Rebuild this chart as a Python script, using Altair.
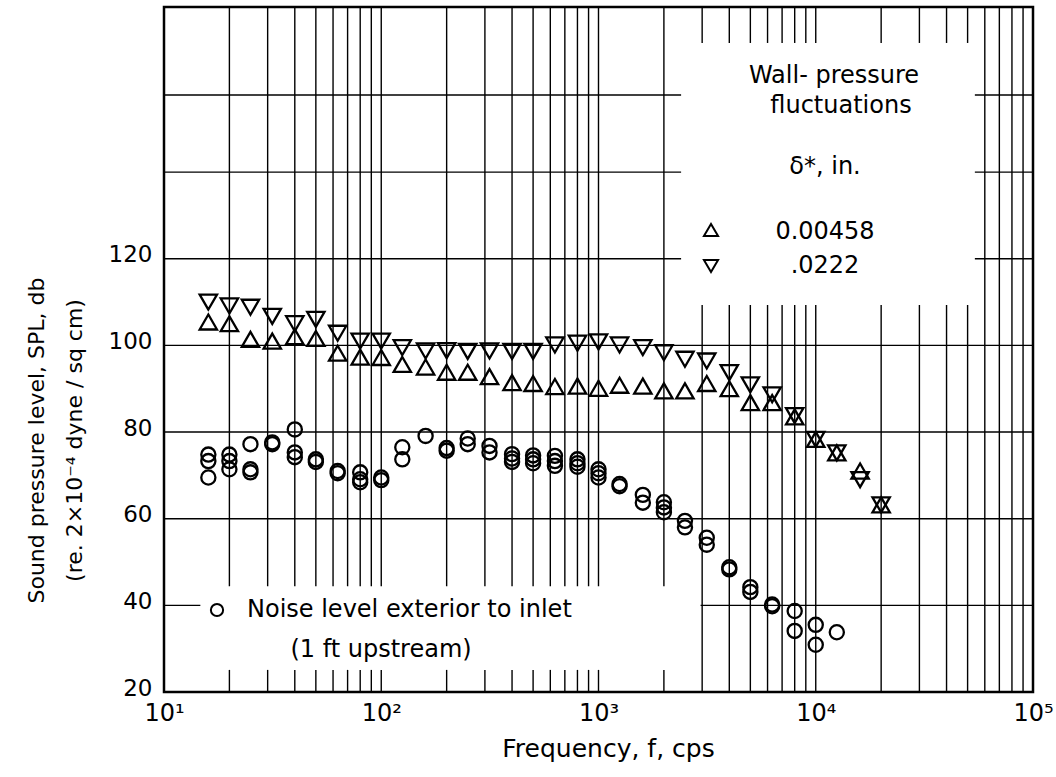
import altair as alt
import pandas as pd

# ---------------- data ----------------
freq_bands = [16, 20, 25, 31.5, 40, 50, 63, 80, 100, 125, 160, 200, 250, 315, 400, 500,
              630, 800, 1000, 1250, 1600, 2000, 2500, 3150, 4000, 5000, 6300, 8000,
              10000, 12500, 16000, 20000]
spl_thin = [105.4, 105.0, 101.4, 101.0, 102.0, 101.6, 98.2, 97.3, 97.2, 95.6, 95.0, 93.8,
            93.8, 92.8, 91.4, 91.2, 90.5, 90.6, 90.1, 90.8, 90.6, 89.5, 89.5, 91.2, 90.0,
            86.8, 86.8, 83.5, 78.3, 75.2, 71.0, 63.2]          # delta* = 0.00458 in.
spl_thick = [110.0, 109.1, 108.8, 106.7, 105.0, 106.0, 102.8, 101.0, 101.0, 99.5, 98.7,
             98.8, 98.6, 98.7, 98.6, 98.6, 100.1, 100.5, 100.8, 100.1, 99.5, 98.3, 96.8,
             96.4, 93.7, 90.9, 88.6, 83.8, 78.3, 75.2, 69.0, 63.2]  # delta* = .0222 in.

noise_freq = [16, 16, 16, 20, 20, 20, 25, 25, 25, 31.5, 31.5, 40, 40, 40, 50, 50, 63, 63,
              80, 80, 80, 100, 100, 125, 125, 160, 200, 200, 250, 250, 315, 315,
              400, 400, 400, 500, 500, 500, 630, 630, 630, 800, 800, 800,
              1000, 1000, 1000, 1250, 1250, 1600, 1600, 2000, 2000, 2000, 2500, 2500,
              3150, 3150, 4000, 4000, 5000, 5000, 6300, 6300, 8000, 8000, 10000, 10000, 12500]
noise_spl = [74.8, 73.3, 69.5, 74.8, 73.3, 71.4, 77.2, 71.4, 70.7, 77.6, 77.2, 80.6, 75.3,
             74.2, 73.7, 73.1, 71.0, 70.5, 70.7, 69.1, 68.4, 69.5, 68.9, 76.5, 73.7, 79.1,
             76.3, 75.7, 78.5, 77.2, 76.8, 75.3, 74.9, 73.9, 73.1, 74.6, 73.7, 72.8,
             74.5, 73.3, 72.2, 73.7, 72.8, 72.0, 71.4, 70.5, 69.5, 68.0, 67.5, 65.5, 63.7,
             63.8, 62.6, 61.5, 59.5, 58.0, 55.6, 54.0, 48.8, 48.3, 44.2, 43.1, 40.2, 39.8,
             38.7, 34.1, 35.5, 30.9, 33.8]

x_ticks = [10, 100, 1000, 10000, 100000]
y_ticks = [20, 40, 60, 80, 100, 120]
h_grid = [40, 60, 80, 100, 120, 140, 157.8]   # top ruling of the graph paper sits a little low
multipliers = [2, 3, 4, 5, 6, 7, 8, 9, 10]
decades = [10, 100, 1000, 10000]

# graph-paper gaps (areas kept clear for the lettering)
LEG_F = (2400, 54000)     # wall-pressure legend block, frequency span
LEG_S = (109.3, 169.8)    # SPL span
NOI_F = (14.7, 2950)      # noise label block
NOI_S = (25.1, 44.4)

X_DOM = [10, 100000]
Y_DOM = [20, 178.1]

# ---------------- grid segments ----------------
v_rows = []
for d in decades:
    for m in multipliers:
        f = m * d
        if f >= 100000:
            continue
        cuts = []
        if NOI_F[0] < f < NOI_F[1]:
            cuts.append(NOI_S)
        if LEG_F[0] < f < LEG_F[1]:
            cuts.append(LEG_S)
        lo = Y_DOM[0]
        for c in sorted(cuts):
            v_rows.append({"f": f, "s1": lo, "s2": c[0]})
            lo = c[1]
        v_rows.append({"f": f, "s1": lo, "s2": Y_DOM[1]})
vgrid = pd.DataFrame(v_rows)

h_rows = []
for s in h_grid:
    if s == 40:
        h_rows += [{"f": X_DOM[0], "s": s, "f2": NOI_F[0]}, {"f": NOI_F[1], "s": s, "f2": X_DOM[1]}]
    elif s >= 120:
        h_rows += [{"f": X_DOM[0], "s": s, "f2": LEG_F[0]}, {"f": LEG_F[1], "s": s, "f2": X_DOM[1]}]
    else:
        h_rows.append({"f": X_DOM[0], "s": s, "f2": X_DOM[1]})
hgrid = pd.DataFrame(h_rows)

wall = pd.DataFrame({
    "f": freq_bands * 2,
    "s": spl_thin + spl_thick,
    "set": ["0.00458"] * len(freq_bands) + [".0222"] * len(freq_bands),
})
noise = pd.DataFrame({"f": noise_freq, "s": noise_spl})

xs = alt.Scale(type="log", domain=X_DOM, nice=False)
ys = alt.Scale(domain=Y_DOM, nice=False, zero=False)

FONT = "DejaVu Sans"

sup = "{'10': '10\u00b9', '100': '10\u00b2', '1000': '10\u00b3', '10000': '10\u2074', '100000': '10\u2075'}"

xaxis = alt.Axis(values=x_ticks, grid=False, ticks=False, domain=False,
                 labelExpr=sup + "[replace(datum.label, /,/g, '')]",
                 labelFontSize=24, labelPadding=9, labelColor="black",
                 labelFont=FONT, labelFlush=False,
                 title="Frequency,  f,  cps", titleFontSize=25, titleFont=FONT,
                 titleFontWeight="normal", titleColor="black", titlePadding=11,
                 titleX=444)
yaxis = alt.Axis(values=y_ticks, grid=False, ticks=False, domain=False,
                 labelFontSize=23, labelPadding=12, labelColor="black", labelFont=FONT,
                 labelOffset=-4,
                 title=["Sound pressure level, SPL, db", "(re. 2\u00d710\u207b\u2074 dyne / sq cm)"],
                 titleFontSize=22, titleFont=FONT, titleFontWeight="normal",
                 titleColor="black", titleAngle=-90, titleAlign="center",
                 titleBaseline="top", titleX=-138, titleY=433, titleLineHeight=38)

X = alt.X("f:Q", scale=xs, axis=xaxis)
Y = alt.Y("s:Q", scale=ys, axis=yaxis)

vlines = alt.Chart(vgrid).mark_rule(color="black", strokeWidth=1.4).encode(
    x=X, y=alt.Y("s1:Q", scale=ys, axis=yaxis), y2="s2:Q",
)
hlines = alt.Chart(hgrid).mark_rule(color="black", strokeWidth=1.4).encode(
    x=X, x2="f2:Q", y=Y,
)

noise_pts = alt.Chart(noise).mark_point(shape="circle", filled=False, color="black",
                                        strokeWidth=2.3, size=200, opacity=1).encode(x=X, y=Y)

wall_pts = alt.Chart(wall).mark_point(filled=False, color="black", strokeWidth=2.3,
                                      size=300, opacity=1).encode(
    x=X, y=Y,
    shape=alt.Shape("set:N", scale=alt.Scale(domain=["0.00458", ".0222"],
                                             range=["triangle-up", "triangle-down"]),
                    legend=None),
)

def label(txt, x, y, size=24, align="center"):
    return alt.Chart(pd.DataFrame({"t": [txt]})).mark_text(
        font=FONT, fontSize=size, color="black", align=align, baseline="middle").encode(
        x=alt.value(x), y=alt.value(y), text="t:N")

def sym(shape, x, y, size):
    return alt.Chart(pd.DataFrame({"t": [shape]})).mark_point(
        shape=shape, filled=False, color="black", strokeWidth=2, size=size, opacity=1).encode(
        x=alt.value(x), y=alt.value(y))

annotations = [
    label("Wall- pressure", 670, 69),
    label("fluctuations", 677, 99),
    label("\u03b4*, in.", 661, 160),
    sym("triangle-up", 547, 223, 200),
    label("0.00458", 661, 225),
    sym("triangle-down", 547, 259, 200),
    label(".0222", 661, 259),
    sym("circle", 53, 603, 150),
    label("Noise level exterior to inlet", 83, 603, align="left"),
    label("(1 ft upstream)", 217, 643),
]

chart = alt.layer(vlines, hlines, noise_pts, wall_pts, *annotations).properties(
    width=869, height=685,
    padding={"left": 164, "top": 7, "right": 23, "bottom": 85},
    autosize=alt.AutoSizeParams(type="none"),
).configure(font=FONT).configure_view(stroke="black", strokeWidth=2.5)

chart.save("out.html", embed_options={"renderer": "svg", "actions": False})
